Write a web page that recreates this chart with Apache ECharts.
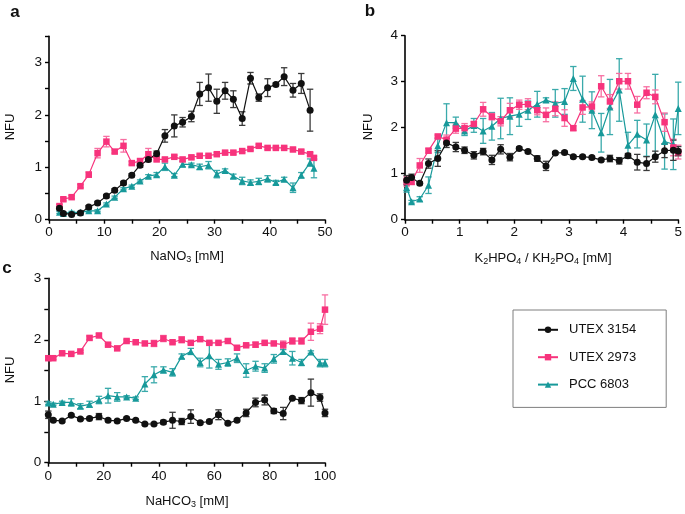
<!DOCTYPE html>
<html><head><meta charset="utf-8">
<script src="https://cdn.jsdelivr.net/npm/echarts@6/dist/echarts.min.js"></script>
<style>html,body{margin:0;padding:0;background:#fff}#c{width:685px;height:514px}</style>
</head><body><div id="c"></div>
<script>
// ---------- Data ----------
var seriesNames = ['UTEX 3154', 'UTEX 2973', 'PCC 6803'];

// Panel a: NaNO3 [mM]
var xA = [1.9, 2.6, 4.1, 5.7, 7.2, 8.8, 10.4, 11.9, 13.5, 15.0, 16.5, 18.0, 19.5, 21.0, 22.7, 24.2, 25.8, 27.3, 28.9, 30.4, 31.9, 33.4, 35.0, 36.5, 38.0, 39.6, 41.1, 42.6, 44.2, 45.7, 47.3, 48.0];
var blackA = [0.22,0.12,0.10,0.13,0.24,0.32,0.45,0.56,0.70,0.85,1.04,1.15,1.26,1.60,1.79,1.86,1.97,2.40,2.52,2.26,2.46,2.30,1.93,2.70,2.33,2.52,2.58,2.73,2.47,2.60,2.09,null];
var blackAErr = [0.03,0.02,0.02,0.02,0.03,0.03,0.03,0.03,0.03,0.03,0.04,0.04,0.05,0.12,0.21,0.09,0.10,0.22,0.26,0.23,0.16,0.16,0.13,0.11,0.07,0.17,0.03,0.17,0.13,0.19,0.40,null];
var pinkA = [0.26,0.39,0.43,0.64,0.86,1.27,1.49,1.30,1.41,1.08,1.12,1.25,1.15,1.15,1.20,1.15,1.19,1.22,1.22,1.25,1.28,1.28,1.31,1.35,1.41,1.37,1.37,1.37,1.34,1.30,1.25,1.18];
var pinkAErr = [0.03,0.03,0.03,0.03,0.05,0.09,0.10,0.03,0.12,0.03,0.04,0.11,0.03,0.03,0.03,0.03,0.03,0.03,0.03,0.03,0.03,0.03,0.03,0.03,0.03,0.03,0.03,0.03,0.03,0.03,0.03,0.03];
var tealA = [0.14,0.12,0.14,0.14,0.17,0.17,0.30,0.43,0.59,0.64,0.74,0.83,0.86,1.01,0.85,1.06,1.05,1.01,1.04,0.87,0.94,0.83,0.74,0.71,0.73,0.78,0.71,0.77,0.61,0.85,1.09,0.98];
var tealAErr = [0.02,0.02,0.02,0.02,0.02,0.02,0.02,0.02,0.02,0.02,0.02,0.03,0.04,0.07,0.03,0.05,0.03,0.05,0.07,0.07,0.03,0.04,0.07,0.05,0.06,0.06,0.04,0.04,0.09,0.05,0.07,0.18];

// Panel b: K2HPO4 / KH2PO4 [mM]
var xB = [0.03,0.12,0.27,0.43,0.60,0.76,0.93,1.09,1.26,1.43,1.59,1.75,1.92,2.09,2.25,2.42,2.58,2.75,2.92,3.08,3.25,3.42,3.59,3.75,3.92,4.08,4.25,4.42,4.58,4.75,4.91,5.00];
var blackB = [0.86,0.92,0.79,1.22,1.33,1.67,1.58,1.51,1.40,1.48,1.30,1.53,1.36,1.55,1.48,1.33,1.17,1.45,1.46,1.37,1.37,1.35,1.30,1.33,1.28,1.39,1.25,1.22,1.37,1.50,1.51,1.49];
var blackBErr = [0.10,0.07,0.03,0.10,0.17,0.10,0.10,0.07,0.08,0.07,0.10,0.10,0.08,0.03,0.03,0.06,0.10,0.03,0.03,0.03,0.03,0.03,0.03,0.07,0.07,0.05,0.17,0.15,0.12,0.15,0.22,0.10];
var pinkB = [0.83,0.82,1.18,1.50,1.81,1.74,1.98,1.99,2.08,2.40,2.24,2.14,2.38,2.50,2.51,2.38,2.28,2.41,2.21,1.99,2.44,2.46,2.90,2.57,3.01,3.01,2.50,2.76,2.67,2.12,1.57,1.47];
var pinkBErr = [0.10,0.05,0.15,0.05,0.03,0.10,0.10,0.10,0.05,0.15,0.07,0.10,0.15,0.10,0.12,0.10,0.15,0.15,0.18,0.05,0.15,0.10,0.23,0.15,0.17,0.17,0.18,0.13,0.15,0.20,0.18,0.15];
var tealB = [0.70,0.39,0.45,0.75,1.61,2.11,2.11,1.93,2.05,1.93,2.03,2.20,2.25,2.29,2.38,2.51,2.60,2.53,2.57,3.07,2.62,2.38,1.89,2.45,2.82,1.62,1.86,1.73,2.28,1.70,1.64,2.42];
var tealBErr = [0.10,0.03,0.05,0.18,0.15,0.41,0.12,0.10,0.15,0.27,0.30,0.44,0.40,0.26,0.20,0.28,0.05,0.30,0.28,0.26,0.50,0.40,0.42,0.60,0.68,0.28,0.30,0.35,0.88,0.60,0.55,0.57];

// Panel c: NaHCO3 [mM]
var xC = [0,1.8,5.0,8.3,11.6,14.9,18.3,21.6,24.9,28.3,31.6,34.9,38.2,41.6,44.9,48.2,51.5,54.9,58.2,61.5,64.9,68.2,71.5,74.9,78.2,81.5,84.9,88.2,91.5,94.9,98.2,100];
var blackC = [0.78,0.69,0.68,0.77,0.71,0.72,0.75,0.69,0.68,0.72,0.69,0.63,0.63,0.66,0.69,0.67,0.75,0.65,0.67,0.78,0.64,0.69,0.81,0.98,1.02,0.84,0.80,1.05,1.01,1.14,1.06,0.81];
var blackCErr = [0.06,0.02,0.02,0.02,0.02,0.02,0.05,0.02,0.02,0.02,0.02,0.02,0.02,0.03,0.13,0.05,0.11,0.02,0.02,0.08,0.02,0.02,0.06,0.07,0.08,0.04,0.10,0.02,0.05,0.22,0.06,0.06];
var pinkC = [1.70,1.70,1.78,1.77,1.81,2.03,2.07,1.92,1.86,1.98,1.96,1.94,1.94,2.02,1.96,2.00,1.95,2.01,1.95,1.95,1.98,1.87,1.91,1.92,1.95,1.94,1.92,1.98,1.98,2.13,2.18,2.49];
var pinkCErr = [0.02,0.02,0.02,0.02,0.02,0.03,0.03,0.02,0.02,0.02,0.02,0.03,0.05,0.05,0.02,0.05,0.02,0.02,0.02,0.02,0.02,0.02,0.02,0.04,0.02,0.02,0.06,0.05,0.05,0.14,0.08,0.24];
var tealC = [0.97,0.95,0.98,0.98,0.92,0.95,1.02,1.09,1.07,1.07,1.05,1.28,1.43,1.51,1.47,1.73,1.81,1.63,1.74,1.60,1.63,1.70,1.50,1.57,1.54,1.69,1.81,1.70,1.63,1.80,1.62,1.62];
var tealCErr = [0.02,0.02,0.02,0.06,0.04,0.05,0.06,0.12,0.07,0.02,0.02,0.12,0.13,0.05,0.06,0.04,0.05,0.07,0.20,0.08,0.06,0.07,0.11,0.08,0.07,0.07,0.03,0.11,0.05,0.02,0.06,0.06];

// ---------- Chart ----------
var FONT = '"Liberation Sans", Arial, sans-serif';
var colors = ['#111111', '#f7337c', '#17999a'];
var errColors = ['#3a3a3a', '#f76fa2', '#3aaaab'];
var symbols = ['circle', 'rect', 'triangle'];

function pairs(xs, ys) { return xs.map(function (x, i) { return [x, ys[i]]; }); }
function triples(xs, ys, es) {
  var out = [];
  xs.forEach(function (x, i) { if (ys[i] != null && es[i] != null) out.push([x, ys[i], es[i]]); });
  return out;
}
function errRenderer(color) {
  return function (params, api) {
    var x = api.value(0), y = api.value(1), e = api.value(2);
    var t = api.coord([x, y + e]), b = api.coord([x, y - e]);
    var cw = 3.2;
    var st = { stroke: color, lineWidth: 1.3, fill: null };
    return { type: 'group', children: [
      { type: 'line', shape: { x1: t[0], y1: t[1], x2: b[0], y2: b[1] }, style: st },
      { type: 'line', shape: { x1: t[0] - cw, y1: t[1], x2: t[0] + cw, y2: t[1] }, style: st },
      { type: 'line', shape: { x1: b[0] - cw, y1: b[1], x2: b[0] + cw, y2: b[1] }, style: st }
    ]};
  };
}

var axisCommon = {
  axisLine: { show: true, onZero: false, lineStyle: { color: '#000', width: 1.6 } },
  axisTick: { show: true, inside: false, length: 4, lineStyle: { color: '#000', width: 1.4 } },
  splitLine: { show: false },
  axisLabel: { color: '#111', fontFamily: FONT, fontSize: 13.5 }
};
function mkAxis(extra, labelFn, margin) {
  var a = JSON.parse(JSON.stringify(axisCommon));
  for (var k in extra) a[k] = extra[k];
  a.axisLabel.formatter = labelFn;
  a.axisLabel.margin = margin;
  a.axisLabel.showMinLabel = true; a.axisLabel.showMaxLabel = true;
  return a;
}
function every(n) { return function (v) { return (Math.abs(v / n - Math.round(v / n)) < 1e-6) ? String(Math.round(v)) : ''; }; }

var grids = [
  { left: 49, top: 36.3, width: 276, height: 183.4 },
  { left: 405, top: 35.7, width: 277.3, height: 184 },
  { left: 48.3, top: 278.3, width: 276.7, height: 184.4 }
];
var xAxes = [
  mkAxis({ type: 'value', gridIndex: 0, min: 0, max: 50, interval: 5 }, every(10), 6),
  mkAxis({ type: 'value', gridIndex: 1, min: 0, max: 5, interval: 0.5 }, every(1), 6),
  mkAxis({ type: 'value', gridIndex: 2, min: 0, max: 100, interval: 10 }, every(20), 7)
];
var yAxes = [
  mkAxis({ type: 'value', gridIndex: 0, min: 0, max: 3.5, interval: 0.5 }, every(1), 7),
  mkAxis({ type: 'value', gridIndex: 1, min: 0, max: 4, interval: 1 }, every(1), 7),
  mkAxis({ type: 'value', gridIndex: 2, min: 0, max: 3, interval: 0.5 }, every(1), 7)
];

var panels = [
  { x: xA, ys: [blackA, pinkA, tealA], es: [blackAErr, pinkAErr, tealAErr] },
  { x: xB, ys: [blackB, pinkB, tealB], es: [blackBErr, pinkBErr, tealBErr] },
  { x: xC, ys: [blackC, pinkC, tealC], es: [blackCErr, pinkCErr, tealCErr] }
];
var order = [2, 1, 0];
var series = [];
panels.forEach(function (p, gi) {
  order.forEach(function (si) {
    series.push({
      type: 'custom', xAxisIndex: gi, yAxisIndex: gi, silent: true,
      renderItem: errRenderer(errColors[si]),
      data: triples(p.x, p.ys[si], p.es[si]), z: 2
    });
  });
  order.forEach(function (si) {
    series.push({
      type: 'line', name: seriesNames[si], xAxisIndex: gi, yAxisIndex: gi,
      data: pairs(p.x, p.ys[si]), connectNulls: false,
      symbol: symbols[si], symbolSize: si === 1 ? 6.5 : 7,
      showAllSymbol: true, animation: false,
      lineStyle: { color: colors[si], width: 1.2 },
      itemStyle: { color: colors[si] }, z: 3
    });
  });
});

function sub(base, subTxt, rest) {
  return '{n|' + base + '}{s|' + subTxt + '}{n|' + rest + '}';
}
var richT = {
  n: { fontSize: 13, fontFamily: FONT, lineHeight: 16, fill: '#111' },
  s: { fontSize: 9, fontFamily: FONT, lineHeight: 9, verticalAlign: 'bottom', fill: '#111' }
};
function tText(x, y, txt, rot) {
  return { type: 'text', x: x, y: y, rotation: rot || 0,
    style: { text: txt, rich: richT, fontSize: 13, fontFamily: FONT, fill: '#111', align: 'center', verticalAlign: 'middle' } };
}
function pLabel(x, y, t) {
  return { type: 'text', x: x, y: y, style: { text: t, fontSize: 17, fontWeight: 'bold', fontFamily: FONT, fill: '#111', align: 'center', verticalAlign: 'middle' } };
}

var option = {
  animation: false,
  backgroundColor: '#fff',
  grid: grids,
  xAxis: xAxes,
  yAxis: yAxes,
  legend: {
    data: seriesNames,
    orient: 'vertical',
    left: 513, top: 310,
    padding: [13.3, 30, 16.3, 24],
    itemGap: 14.4,
    itemWidth: 20, itemHeight: 8,
    borderColor: '#7f7f7f', borderWidth: 1,
    textStyle: { fontSize: 13, fontFamily: FONT, color: '#111', padding: [0, 0, 0, 6] }
  },
  graphic: [
    pLabel(15, 12, 'a'), pLabel(370, 11, 'b'), pLabel(7, 268, 'c'),
    tText(10, 127, '{n|NFU}', Math.PI / 2),
    tText(368, 127, '{n|NFU}', Math.PI / 2),
    tText(10, 370, '{n|NFU}', Math.PI / 2),
    tText(187, 256, sub('NaNO', '3', ' [mM]')),
    tText(543, 258, '{n|K}{s|2}{n|HPO}{s|4}{n| / KH}{s|2}{n|PO}{s|4}{n| [mM]}'),
    tText(187, 501, sub('NaHCO', '3', ' [mM]'))
  ],
  series: series
};
var chart = echarts.init(document.getElementById('c'), null, { renderer: 'canvas' });
chart.setOption(option);
</script>
</body></html>
